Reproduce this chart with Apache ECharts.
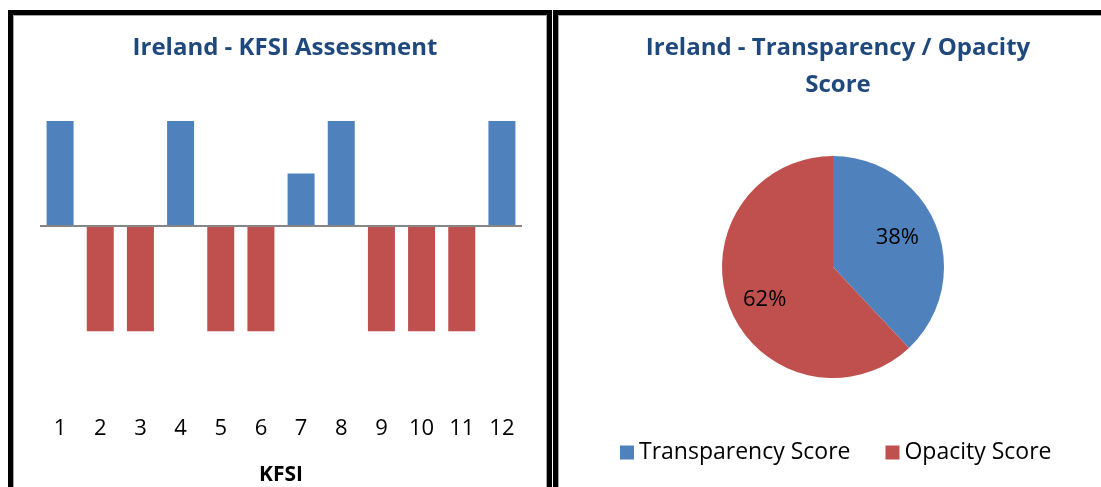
<!DOCTYPE html>
<html>
<head>
<meta charset="utf-8">
<script src="https://cdn.jsdelivr.net/npm/echarts@6/dist/echarts.min.js"></script>
<style>
    html, body { margin: 0; padding: 0; background: #fff; overflow: hidden; }
    .panel {
        position: absolute;
        box-sizing: border-box;
        border: 5px solid #000;
        box-shadow: inset 1px 1px 0 #a6a6a6, inset -1px 0 0 #a6a6a6;
    }
    #left { left: 8px; top: 10px; width: 544px; height: 600px; }
    #right { left: 553px; top: 10px; width: 600px; height: 600px; }
    #chart { position: absolute; left: 0; top: 0; width: 1101px; height: 487px; }
</style>
</head>
<body>
<div class="panel" id="left"></div>
<div class="panel" id="right"></div>
<div id="chart"></div>
<script>
/* data */
const kfsiCategories = ['1', '2', '3', '4', '5', '6', '7', '8', '9', '10', '11', '12'];
const kfsiValues = [1, -1, -1, 1, -1, -1, 0.5, 1, -1, -1, -1, 1];
const scoreNames = ['Transparency Score', 'Opacity Score'];
const scoreValues = [38, 62];

const BLUE = '#4F81BD';
const RED = '#C0504D';
const TITLE = '#1F497D';
const FONT = '"Open Sans", sans-serif';

const chart = echarts.init(document.getElementById('chart'), null, { renderer: 'canvas' });
const pieCenter = [833, 267];

chart.setOption({
    animation: false,
    textStyle: { fontFamily: FONT },
    title: [
        {
            text: 'Ireland - KFSI Assessment',
            left: 280, top: 31, textAlign: 'center',
            textStyle: { color: TITLE, fontSize: 24, fontWeight: 'bold', fontFamily: FONT },
        },
        {
            text: 'Ireland - Transparency / Opacity\nScore',
            left: 833, top: 25, textAlign: 'center',
            textStyle: { color: TITLE, fontSize: 24, fontWeight: 'bold', lineHeight: 37, fontFamily: FONT },
        },
    ],
    legend: {
        data: scoreNames,
        left: 615, top: 436,
        icon: 'rect', itemWidth: 14, itemHeight: 14, itemGap: 35,
        textStyle: { fontSize: 23, color: '#000', fontFamily: FONT },
    },
    grid: { left: 40, right: 579, top: 121, bottom: 77, outerBoundsMode: 'none', containLabel: false },
    xAxis: {
        type: 'category',
        data: kfsiCategories,
        axisLine: { show: false, onZero: false },
        axisTick: { show: false },
        axisLabel: { fontSize: 22, color: '#000', margin: 8 },
        name: 'KFSI',
        nameLocation: 'middle',
        nameGap: 55,
        nameTextStyle: { fontSize: 21, fontWeight: 'bold', color: '#000' },
    },
    yAxis: {
        type: 'value', min: -1.75, max: 1, show: false,
        splitLine: { show: false },
    },
    series: [
        {
            type: 'bar',
            data: kfsiValues,
            barWidth: 27,
            itemStyle: { color: p => (p.value > 0 ? BLUE : RED) },
            markLine: {
                silent: true,
                symbol: 'none',
                label: { show: false },
                lineStyle: { color: '#868686', width: 2, type: 'solid' },
                data: [{ yAxis: 0 }],
            },
        },
        {
            type: 'pie',
            center: pieCenter,
            radius: 111,
            startAngle: 90,
            clockwise: true,
            data: scoreNames.map((n, i) => ({
                name: n, value: scoreValues[i],
                itemStyle: { color: i === 0 ? BLUE : RED },
            })),
            label: {
                position: 'inside',
                formatter: '{c}%',
                fontSize: 22, color: '#000', fontFamily: FONT,
            },
            labelLine: { show: false },
            labelLayout: p => {
                // push labels a bit further out than ECharts' half radius
                const cx = p.labelRect.x + p.labelRect.width / 2;
                const cy = p.labelRect.y + p.labelRect.height / 2;
                const nudge = p.dataIndex === 0 ? -3 : 6;
                return { dx: (cx - pieCenter[0]) * 0.22 - 2, dy: (cy - pieCenter[1]) * 0.22 + nudge };
            },
        },
    ],
});
</script>
</body>
</html>
